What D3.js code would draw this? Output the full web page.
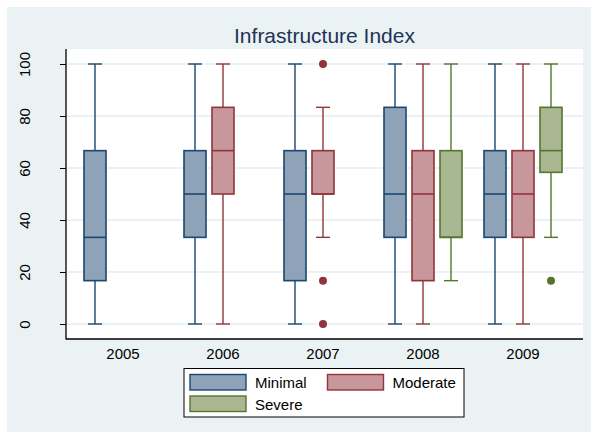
<!DOCTYPE html>
<html>
<head>
<meta charset="utf-8">
<script src="https://cdn.jsdelivr.net/npm/d3@7"></script>
<style>
  body { margin: 0; background: #ffffff; }
  svg { display: block; font-family: "Liberation Sans", Arial, sans-serif; }
</style>
</head>
<body>
<svg id="chart" width="591" height="432"></svg>
<script>
// ---- data ----
const years = ["2005", "2006", "2007", "2008", "2009"];
const groups = ["Minimal", "Moderate", "Severe"];
const yTicks = [0, 20, 40, 60, 80, 100];
// five-number summaries [lower whisker, q1, median, q3, upper whisker] per year
const minimalStats = [
  [0, 16.67, 33.33, 66.67, 100],
  [0, 33.33, 50, 66.67, 100],
  [0, 16.67, 50, 66.67, 100],
  [0, 33.33, 50, 83.33, 100],
  [0, 33.33, 50, 66.67, 100]
];
const moderateStats = [
  null,
  [0, 50, 66.67, 83.33, 100],
  [33.33, 50, 50, 66.67, 83.33],
  [0, 16.67, 50, 66.67, 100],
  [0, 33.33, 50, 66.67, 100]
];
const severeStats = [
  null,
  null,
  null,
  [16.67, 33.33, 33.33, 66.67, 100],
  [33.33, 58.33, 66.67, 83.33, 100]
];
const minimalOutliers = [[], [], [], [], []];
const moderateOutliers = [[], [], [100, 16.67, 0], [], []];
const severeOutliers = [[], [], [], [], [16.67]];

const statsByGroup = { Minimal: minimalStats, Moderate: moderateStats, Severe: severeStats };
const outliersByGroup = { Minimal: minimalOutliers, Moderate: moderateOutliers, Severe: severeOutliers };

// ---- styles ----
const lineColor = { Minimal: "#1a476f", Moderate: "#90353b", Severe: "#55752f" };
const fillColor = { Minimal: "#8ea3b8", Moderate: "#c8979b", Severe: "#a9b890" };
const bgColor = "#eaf2f3";

const svg = d3.select("#chart");

// outer background
svg.append("rect").attr("x", 7).attr("y", 7).attr("width", 584).attr("height", 425).attr("fill", bgColor);

const plot = { left: 66, right: 583, top: 49, bottom: 339 };
svg.append("rect").attr("x", plot.left).attr("y", plot.top)
  .attr("width", plot.right - plot.left).attr("height", plot.bottom - plot.top).attr("fill", "#ffffff");

// scales
const x = d3.scaleBand().domain(years).range([73, 573]).padding(0);
const xi = d3.scalePoint().domain(groups).range([-28, 28]);
const y = d3.scaleLinear().domain([0, 100]).range([324, 64]);
const boxW = x.bandwidth() * 0.22;
const capW = x.bandwidth() * 0.14;

// gridlines
svg.append("g").selectAll("line").data(yTicks).join("line")
  .attr("x1", plot.left).attr("x2", plot.right)
  .attr("y1", d => y(d)).attr("y2", d => y(d))
  .attr("stroke", bgColor).attr("stroke-width", 2);

// title
svg.append("text").attr("x", (plot.left + plot.right) / 2).attr("y", 42.5)
  .attr("text-anchor", "middle").attr("font-size", 21).attr("fill", "#233257")
  .text("Infrastructure Index");

// y axis
const yAxis = svg.append("g").attr("transform", `translate(${plot.left},0)`)
  .call(d3.axisLeft(y).tickValues(yTicks).tickSize(6).tickFormat(d3.format("d")));
yAxis.select(".domain").remove();
yAxis.selectAll(".tick line").attr("stroke", "#000").attr("stroke-width", 1);
yAxis.selectAll(".tick text")
  .attr("x", null).attr("dy", null)
  .attr("transform", "translate(-36,0) rotate(-90)")
  .attr("text-anchor", "middle")
  .attr("font-size", 15).attr("fill", "#000")
  .attr("font-family", "\"Liberation Sans\", Arial, sans-serif");

// x axis
const xAxis = svg.append("g").attr("transform", `translate(0,${plot.bottom})`)
  .call(d3.axisBottom(x).tickSize(0).tickPadding(9));
xAxis.select(".domain").remove();
xAxis.selectAll(".tick text").attr("font-size", 15).attr("fill", "#000")
  .attr("font-family", "\"Liberation Sans\", Arial, sans-serif");

// axis lines
svg.append("line").attr("x1", plot.left).attr("x2", plot.left).attr("y1", plot.top).attr("y2", plot.bottom + 0.5)
  .attr("stroke", "#000").attr("stroke-width", 1.3);
svg.append("line").attr("x1", plot.left).attr("x2", plot.right).attr("y1", plot.bottom).attr("y2", plot.bottom)
  .attr("stroke", "#000").attr("stroke-width", 1.3);

// boxes
const boxes = [];
groups.forEach(g => {
  years.forEach((yr, i) => {
    const s = statsByGroup[g][i];
    if (s) boxes.push({ g, yr, s, out: outliersByGroup[g][i] });
  });
});

const bg = svg.append("g");
boxes.forEach(b => {
  const cx = x(b.yr) + x.bandwidth() / 2 + xi(b.g);
  const [lo, q1, med, q3, hi] = b.s;
  const col = lineColor[b.g];
  const grp = bg.append("g");
  // whiskers
  grp.append("line").attr("x1", cx).attr("x2", cx).attr("y1", y(hi)).attr("y2", y(q3))
    .attr("stroke", col).attr("stroke-width", 1.4);
  grp.append("line").attr("x1", cx).attr("x2", cx).attr("y1", y(q1)).attr("y2", y(lo))
    .attr("stroke", col).attr("stroke-width", 1.4);
  // caps
  [hi, lo].forEach(v => {
    grp.append("line").attr("x1", cx - capW / 2).attr("x2", cx + capW / 2)
      .attr("y1", y(v)).attr("y2", y(v)).attr("stroke", col).attr("stroke-width", 1.4);
  });
  // box
  grp.append("rect").attr("x", cx - boxW / 2).attr("y", y(q3))
    .attr("width", boxW).attr("height", y(q1) - y(q3))
    .attr("fill", fillColor[b.g]).attr("stroke", col).attr("stroke-width", 1.6);
  // median
  grp.append("line").attr("x1", cx - boxW / 2).attr("x2", cx + boxW / 2)
    .attr("y1", y(med)).attr("y2", y(med)).attr("stroke", col).attr("stroke-width", 1.6);
  // outliers
  grp.selectAll("circle").data(b.out).join("circle")
    .attr("cx", cx).attr("cy", d => y(d)).attr("r", 4).attr("fill", col);
});

// legend
const lg = svg.append("g");
lg.append("rect").attr("x", 184).attr("y", 368.5).attr("width", 280).attr("height", 48.5)
  .attr("fill", "#ffffff").attr("stroke", "#000").attr("stroke-width", 1);
const legendPos = [
  { g: "Minimal", sx: 190, sy: 374.5, tx: 255 },
  { g: "Moderate", sx: 327.5, sy: 374.5, tx: 392.5 },
  { g: "Severe", sx: 190, sy: 396, tx: 255 }
];
legendPos.forEach(p => {
  lg.append("rect").attr("x", p.sx).attr("y", p.sy).attr("width", 56).attr("height", 15.5)
    .attr("fill", fillColor[p.g]).attr("stroke", lineColor[p.g]).attr("stroke-width", 1.4);
  lg.append("text").attr("x", p.tx).attr("y", p.sy + 13.5).attr("font-size", 15).attr("fill", "#000")
    .text(p.g);
});
</script>
</body>
</html>
